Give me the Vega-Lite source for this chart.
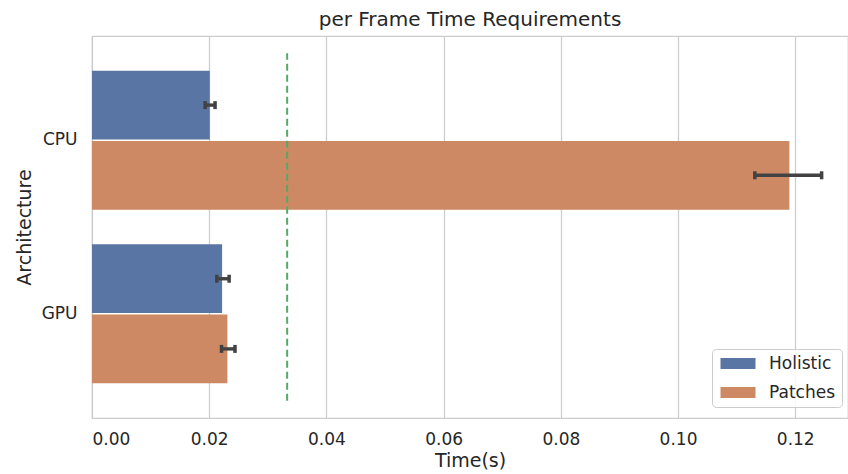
{
  "$schema": "https://vega.github.io/schema/vega-lite/v6.json",
  "width": 756,
  "height": 382,
  "autosize": {"type": "none"},
  "padding": {"left": 92, "top": 36, "right": 0, "bottom": 56},
  "background": "white",
  "title": {"text": "per Frame Time Requirements", "fontSize": 20, "font": "DejaVu Sans", "fontWeight": "normal", "color": "#262626", "offset": 6},
  "config": {
    "font": "DejaVu Sans",
    "view": {"stroke": "#cccccc", "strokeWidth": 1.25},
    "axis": {"labelFont": "DejaVu Sans", "titleFont": "DejaVu Sans", "labelColor": "#262626", "titleColor": "#262626", "labelFontSize": 17, "titleFontSize": 19, "titleFontWeight": "normal", "domain": false, "ticks": false}
  },
  "datasets": {
    "bars": [
      {"Architecture": "CPU", "Method": "Holistic", "time": 0.0201, "lo": 0.0193, "hi": 0.0210},
      {"Architecture": "CPU", "Method": "Patches", "time": 0.1190, "lo": 0.1131, "hi": 0.1245},
      {"Architecture": "GPU", "Method": "Holistic", "time": 0.0222, "lo": 0.0213, "hi": 0.0234},
      {"Architecture": "GPU", "Method": "Patches", "time": 0.0231, "lo": 0.0221, "hi": 0.0244}
    ],
    "ref": [{"t": 0.0333, "y0": -0.5, "y1": 1.5}]
  },
  "layer": [
    {
      "data": {"name": "bars"},
      "encoding": {
        "y": {"field": "Architecture", "type": "nominal", "scale": {"paddingInner": 0.2, "paddingOuter": 0.2},
              "axis": {"title": "Architecture", "labelPadding": 15, "titlePadding": 7, "grid": false}},
        "yOffset": {"field": "Method", "type": "nominal", "scale": {"paddingInner": 0.02}}
      },
      "layer": [
        {
          "mark": {"type": "bar", "opacity": 1},
          "encoding": {
            "x": {"field": "time", "type": "quantitative", "scale": {"domain": [0, 0.129], "nice": false},
                  "axis": {"title": "Time(s)", "values": [0, 0.02, 0.04, 0.06, 0.08, 0.1, 0.12], "format": ".2f", "labelPadding": 13, "titlePadding": 4, "grid": true, "gridColor": "#cccccc", "gridWidth": 1.25}},
            "color": {"field": "Method", "type": "nominal", "scale": {"domain": ["Holistic", "Patches"], "range": ["#5975a4", "#cc8963"]},
                      "legend": {"title": null, "orient": "none", "legendX": 620, "legendY": 313, "fillColor": "rgba(255,255,255,0.85)", "strokeColor": "#cccccc", "cornerRadius": 4, "padding": 6, "labelFontSize": 17, "labelColor": "#262626", "labelFont": "DejaVu Sans", "symbolType": "M-2.5,-0.786H2.5V0.786H-2.5Z", "symbolSize": 196, "symbolStrokeWidth": 0, "symbolOpacity": 1, "symbolOffset": 11.5, "rowPadding": 11, "labelOffset": 22.5}}
          }
        },
        {
          "mark": {"type": "rule", "color": "#424242", "strokeWidth": 3.4},
          "encoding": {
            "x": {"field": "lo", "type": "quantitative"},
            "x2": {"field": "hi"}
          }
        },
        {
          "mark": {"type": "tick", "color": "#424242", "size": 8, "thickness": 3.5, "opacity": 1},
          "encoding": {"x": {"field": "lo", "type": "quantitative"}}
        },
        {
          "mark": {"type": "tick", "color": "#424242", "size": 8, "thickness": 3.5, "opacity": 1},
          "encoding": {"x": {"field": "hi", "type": "quantitative"}}
        }
      ]
    },
    {
      "data": {"name": "ref"},
      "mark": {"type": "rule", "color": "#55a868", "strokeWidth": 2, "strokeDash": [7, 4]},
      "encoding": {
        "x": {"field": "t", "type": "quantitative"},
        "y": {"field": "y0", "type": "quantitative", "scale": {"domain": [-0.6, 1.6], "nice": false, "zero": false}, "axis": null},
        "y2": {"field": "y1"}
      }
    }
  ],
  "resolve": {"scale": {"y": "independent"}}
}
